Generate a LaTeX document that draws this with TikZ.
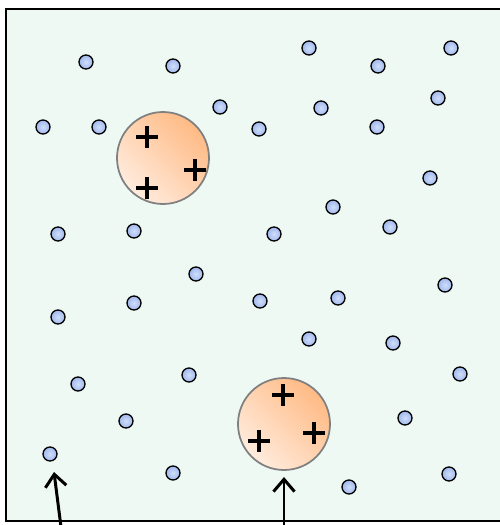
\documentclass[tikz,border=0pt]{standalone}
\usepackage{tikz}
\usetikzlibrary{arrows.meta,calc,positioning}
\definecolor{mintbg}{RGB}{239,249,243}
\definecolor{ionblue}{RGB}{160,184,236}
\definecolor{ionlight}{RGB}{208,222,250}
\definecolor{dropdark}{RGB}{255,186,132}
\definecolor{droplight}{RGB}{255,236,222}
\tikzset{
  ion/.style={inner color=ionlight, outer color=ionblue, draw=black, line width=0.75pt},
  drop/.style={top color=dropdark, bottom color=droplight, shading angle=-45, draw=gray, line width=1pt},
  charge/.style={line width=2.4pt},
  pointer/.style={line width=1.7pt, -{Straight Barb[length=7pt,width=12pt]}}
}
\newcommand{\plusat}[1]{\draw[charge] (#1) ++(-11,0) -- ++(22,0) (#1) ++(0,-11) -- ++(0,22);}
\begin{document}
\begin{tikzpicture}[x=0.02cm,y=-0.02cm]
        \def\r{7}
        \def\R{46}
        \useasboundingbox (0,0) rectangle (500,525);
        \coordinate (dropA) at (163,158);
        \coordinate (dropB) at (284,424);
        \coordinate (tailL) at (61,527);
        \coordinate (headL) at (54,472);
        \coordinate (tailR) at (284,527);
        \coordinate (headR) at (284,477);
        %Box
        \filldraw[fill=mintbg, draw=black, line width=1.3pt] (6,9) rectangle (505,521);
        %Small ions
        \shade[ion] (86,62) circle(\r);
        \shade[ion] (173,66) circle(\r);
        \shade[ion] (309,48) circle(\r);
        \shade[ion] (378,66) circle(\r);
        \shade[ion] (451,48) circle(\r);
        \shade[ion] (43,127) circle(\r);
        \shade[ion] (99,127) circle(\r);
        \shade[ion] (220,107) circle(\r);
        \shade[ion] (259,129) circle(\r);
        \shade[ion] (321,108) circle(\r);
        \shade[ion] (377,127) circle(\r);
        \shade[ion] (438,98) circle(\r);
        \shade[ion] (430,178) circle(\r);
        \shade[ion] (58,234) circle(\r);
        \shade[ion] (134,231) circle(\r);
        \shade[ion] (274,234) circle(\r);
        \shade[ion] (333,207) circle(\r);
        \shade[ion] (390,227) circle(\r);
        \shade[ion] (196,274) circle(\r);
        \shade[ion] (58,317) circle(\r);
        \shade[ion] (134,303) circle(\r);
        \shade[ion] (260,301) circle(\r);
        \shade[ion] (338,298) circle(\r);
        \shade[ion] (445,285) circle(\r);
        \shade[ion] (309,339) circle(\r);
        \shade[ion] (393,343) circle(\r);
        \shade[ion] (78,384) circle(\r);
        \shade[ion] (189,375) circle(\r);
        \shade[ion] (460,374) circle(\r);
        \shade[ion] (126,421) circle(\r);
        \shade[ion] (405,418) circle(\r);
        \shade[ion] (50,454) circle(\r);
        \shade[ion] (173,473) circle(\r);
        \shade[ion] (349,487) circle(\r);
        \shade[ion] (449,474) circle(\r);
        %Charged drops
        \shade[drop] (dropA) circle(\R);
        \shade[drop] (dropB) circle(\R);
        \plusat{147,137}
        \plusat{195,170}
        \plusat{147,188}
        \plusat{283,395}
        \plusat{259,441}
        \plusat{314,433}
        %Arrows
        \draw[pointer] (tailL) -- (headL);
        \draw[pointer] (tailR) -- (headR);
      \end{tikzpicture}
\end{document}
